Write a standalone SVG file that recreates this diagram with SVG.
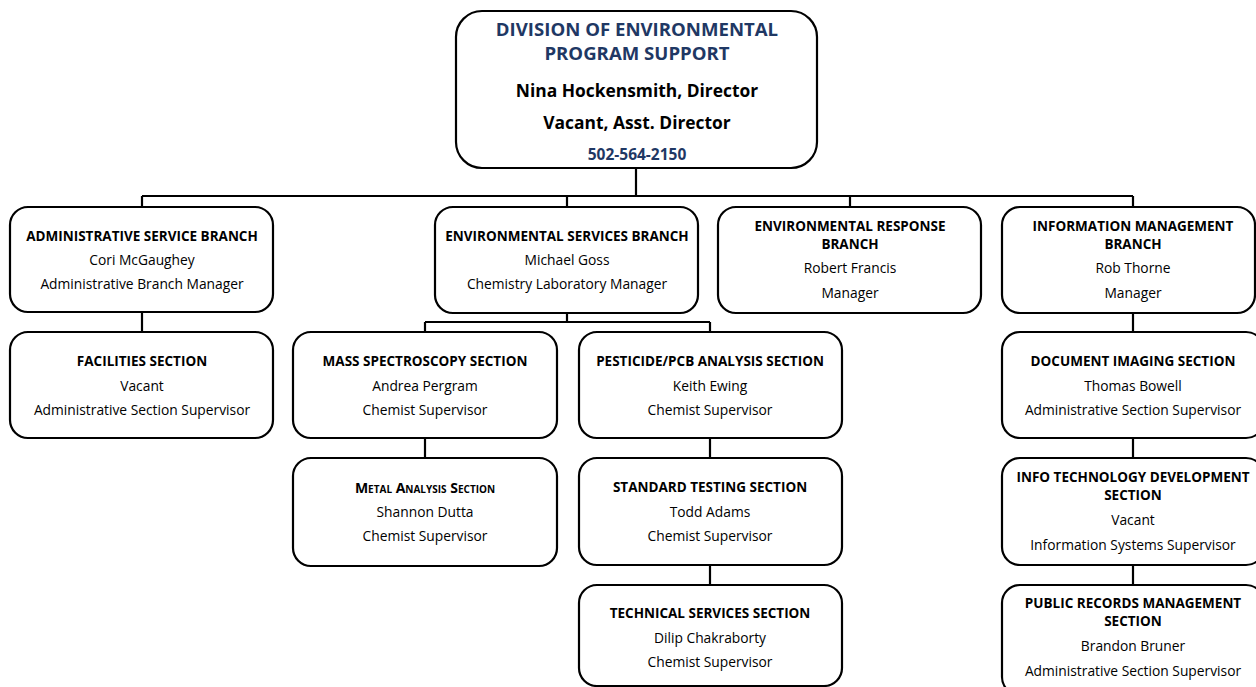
<svg xmlns="http://www.w3.org/2000/svg" width="1256" height="687" viewBox="0 0 1256 687">
<style>
.box{fill:#fff;stroke:#000;stroke-width:2.2}
.conn{fill:none;stroke:#000;stroke-width:2.2}
text{font-family:"Open Sans","Liberation Sans",sans-serif;text-anchor:middle;fill:#000}
.t{font-weight:bold;font-size:13.5px}
.n{font-size:13.8px}
.h{font-weight:bold;font-size:18.6px;fill:#1F3864}
.d{font-weight:bold;font-size:17.4px}
.p{font-weight:bold;font-size:15.5px;fill:#1F3864}
.sc{font-variant:small-caps;font-size:14px}
</style>
<rect width="1256" height="687" fill="#fff"/>
<g id="connectors">
<path class="conn" d="M636 168V196M142 196H1133M142 196V207M567 196V207M850 196V207M1133 196V207"/>
<path class="conn" d="M142 312V332"/>
<path class="conn" d="M567 313V322M425 322H710M425 322V332M710 322V332"/>
<path class="conn" d="M425 438V458M710 438V458M710 565V585"/>
<path class="conn" d="M1133 313V332M1133 438V458M1133 565V585"/>
</g>
<g id="division">
<rect class="box" x="456" y="11" width="361" height="157" rx="26"/>
<text class="h" x="637" y="36">DIVISION OF ENVIRONMENTAL</text>
<text class="h" x="637" y="60">PROGRAM SUPPORT</text>
<text class="d" x="637" y="97">Nina Hockensmith, Director</text>
<text class="d" x="637" y="129">Vacant, Asst. Director</text>
<text class="p" x="637" y="160">502-564-2150</text>
</g>
<g id="admin-branch">
<rect class="box" x="10" y="207" width="263" height="105" rx="18"/>
<text class="t" x="142" y="241">ADMINISTRATIVE SERVICE BRANCH</text>
<text class="n" x="142" y="265">Cori McGaughey</text>
<text class="n" x="142" y="289">Administrative Branch Manager</text>
</g>
<g id="env-services-branch">
<rect class="box" x="435" y="207" width="263" height="106" rx="18"/>
<text class="t" x="567" y="241">ENVIRONMENTAL SERVICES BRANCH</text>
<text class="n" x="567" y="265">Michael Goss</text>
<text class="n" x="567" y="289">Chemistry Laboratory Manager</text>
</g>
<g id="env-response-branch">
<rect class="box" x="718" y="207" width="263" height="106" rx="18"/>
<text class="t" x="850" y="231">ENVIRONMENTAL RESPONSE</text>
<text class="t" x="850" y="249">BRANCH</text>
<text class="n" x="850" y="273">Robert Francis</text>
<text class="n" x="850" y="298">Manager</text>
</g>
<g id="info-mgmt-branch">
<rect class="box" x="1002" y="207" width="253" height="106" rx="18"/>
<text class="t" x="1133" y="231">INFORMATION MANAGEMENT</text>
<text class="t" x="1133" y="249">BRANCH</text>
<text class="n" x="1133" y="273">Rob Thorne</text>
<text class="n" x="1133" y="298">Manager</text>
</g>
<g id="facilities">
<rect class="box" x="10" y="332" width="263" height="106" rx="18"/>
<text class="t" x="142" y="366">FACILITIES SECTION</text>
<text class="n" x="142" y="391">Vacant</text>
<text class="n" x="142" y="415">Administrative Section Supervisor</text>
</g>
<g id="mass-spec">
<rect class="box" x="293" y="332" width="264" height="106" rx="18"/>
<text class="t" x="425" y="366">MASS SPECTROSCOPY SECTION</text>
<text class="n" x="425" y="391">Andrea Pergram</text>
<text class="n" x="425" y="415">Chemist Supervisor</text>
</g>
<g id="pesticide">
<rect class="box" x="579" y="332" width="263" height="106" rx="18"/>
<text class="t" x="710" y="366">PESTICIDE/PCB ANALYSIS SECTION</text>
<text class="n" x="710" y="391">Keith Ewing</text>
<text class="n" x="710" y="415">Chemist Supervisor</text>
</g>
<g id="doc-imaging">
<rect class="box" x="1002" y="332" width="262" height="106" rx="18"/>
<text class="t" x="1133" y="366">DOCUMENT IMAGING SECTION</text>
<text class="n" x="1133" y="391">Thomas Bowell</text>
<text class="n" x="1133" y="415">Administrative Section Supervisor</text>
</g>
<g id="metal">
<rect class="box" x="293" y="458" width="264" height="108" rx="18"/>
<text class="t sc" x="425" y="493">Metal Analysis Section</text>
<text class="n" x="425" y="517">Shannon Dutta</text>
<text class="n" x="425" y="541">Chemist Supervisor</text>
</g>
<g id="standard-testing">
<rect class="box" x="579" y="458" width="263" height="107" rx="18"/>
<text class="t" x="710" y="492">STANDARD TESTING SECTION</text>
<text class="n" x="710" y="517">Todd Adams</text>
<text class="n" x="710" y="541">Chemist Supervisor</text>
</g>
<g id="info-tech">
<rect class="box" x="1002" y="458" width="262" height="107" rx="18"/>
<text class="t" x="1133" y="482">INFO TECHNOLOGY DEVELOPMENT</text>
<text class="t" x="1133" y="500">SECTION</text>
<text class="n" x="1133" y="525">Vacant</text>
<text class="n" x="1133" y="550">Information Systems Supervisor</text>
</g>
<g id="technical-services">
<rect class="box" x="579" y="585" width="263" height="101" rx="18"/>
<text class="t" x="710" y="618">TECHNICAL SERVICES SECTION</text>
<text class="n" x="710" y="643">Dilip Chakraborty</text>
<text class="n" x="710" y="667">Chemist Supervisor</text>
</g>
<g id="public-records">
<rect class="box" x="1002" y="585" width="262" height="110" rx="18"/>
<text class="t" x="1133" y="608">PUBLIC RECORDS MANAGEMENT</text>
<text class="t" x="1133" y="626">SECTION</text>
<text class="n" x="1133" y="651">Brandon Bruner</text>
<text class="n" x="1133" y="676">Administrative Section Supervisor</text>
</g>
</svg>
